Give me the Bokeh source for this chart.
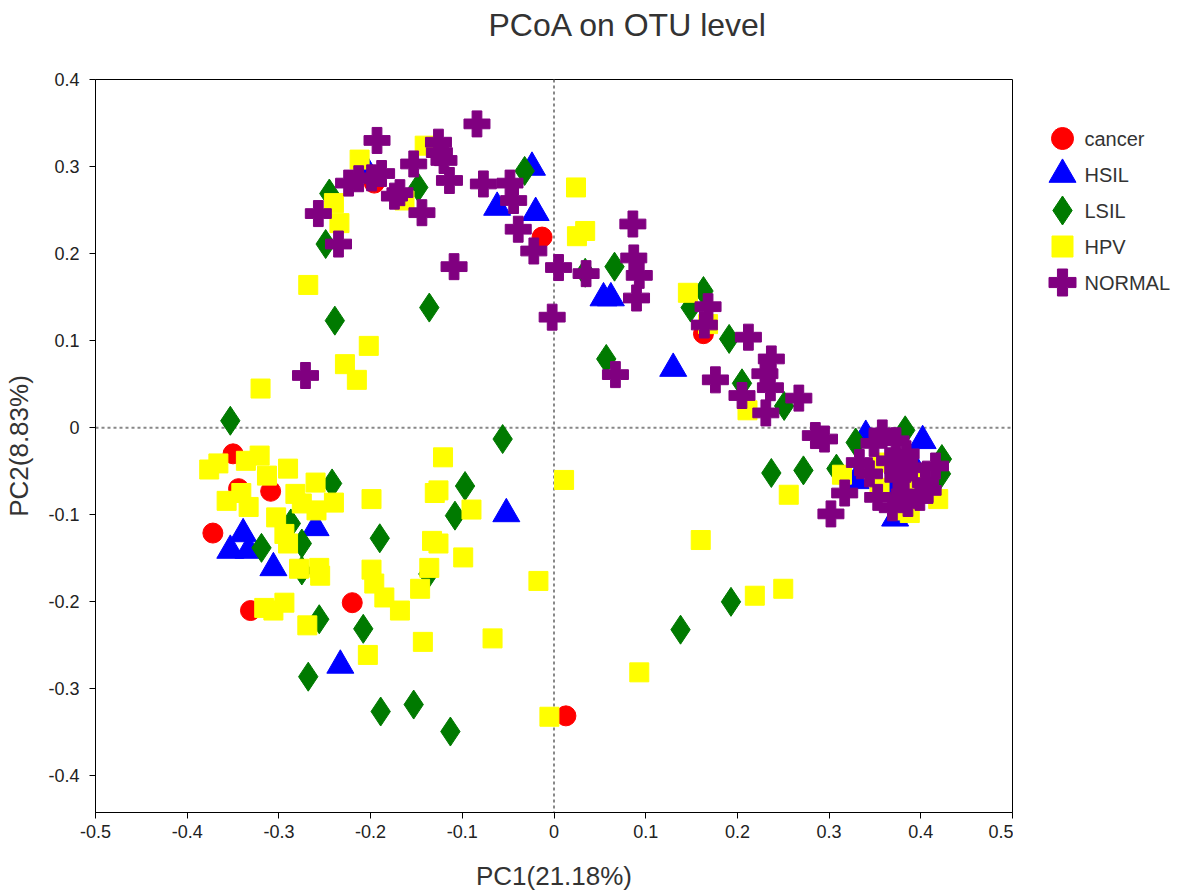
from bokeh.plotting import figure
from bokeh.layouts import row
from bokeh.models import Span, FixedTicker, Range1d, Title
from bokeh.core.properties import value
from bokeh.embed import file_html
from bokeh.resources import INLINE

# ---------------- data ----------------
title_text = "PCoA on OTU level"
x_label = "PC1(21.18%)"
y_label = "PC2(8.83%)"

x_ticks = [-0.5, -0.4, -0.3, -0.2, -0.1, 0, 0.1, 0.2, 0.3, 0.4, 0.5]
x_tick_labels = ["-0.5", "-0.4", "-0.3", "-0.2", "-0.1", "0", "0.1", "0.2", "0.3", "0.4", "0.5"]
y_ticks = [-0.4, -0.3, -0.2, -0.1, 0, 0.1, 0.2, 0.3, 0.4]
y_tick_labels = ["-0.4", "-0.3", "-0.2", "-0.1", "0", "0.1", "0.2", "0.3", "0.4"]

groups = ["cancer", "HSIL", "LSIL", "HPV", "NORMAL"]

cancer_x = [-0.013, 0.163, -0.350, -0.344, -0.309, -0.372, -0.331, -0.220, 0.013, -0.196]
cancer_y = [0.219, 0.108, -0.030, -0.070, -0.073, -0.121, -0.210, -0.201, -0.331, 0.281]

hsil_x = [-0.024, -0.062, -0.020, 0.054, 0.062, 0.130, -0.052, -0.339, -0.353, -0.333,
          -0.306, -0.260, -0.233, 0.340, 0.402, 0.329, 0.372, 0.369, -0.204, 0.390]
hsil_y = [0.299, 0.253, 0.247, 0.149, 0.149, 0.068, -0.099, -0.122, -0.141, -0.141,
          -0.161, -0.115, -0.273, -0.009, -0.015, -0.061, -0.104, -0.072, 0.295, -0.040]

lsil_x = [-0.032, -0.148, -0.245, -0.249, -0.239, -0.136, 0.034, 0.066, 0.057, 0.163,
          0.149, 0.191, 0.205, 0.251, 0.329, 0.383, 0.423, 0.422, 0.237, 0.272,
          0.308, -0.353, -0.242, -0.097, -0.108, -0.190, -0.319, -0.287, -0.275, -0.137,
          -0.056, 0.193, 0.138, -0.256, -0.208, -0.268, -0.189, -0.153, -0.113, -0.275]
lsil_y = [0.295, 0.276, 0.269, 0.211, 0.123, 0.138, 0.178, 0.185, 0.079, 0.157,
          0.138, 0.102, 0.051, 0.025, -0.017, -0.003, -0.036, -0.053, -0.052, -0.049,
          -0.047, 0.008, -0.064, -0.067, -0.101, -0.127, -0.138, -0.110, -0.133, -0.168,
          -0.013, -0.200, -0.232, -0.220, -0.231, -0.286, -0.326, -0.318, -0.349, -0.164]

hpv_x = [-0.212, -0.240, -0.234, -0.268, -0.141, -0.163, 0.024, 0.025, 0.034, 0.146,
         0.168, 0.211, -0.202, -0.228, -0.215, -0.320, -0.376, -0.366, -0.336, -0.321,
         -0.313, -0.290, -0.341, -0.357, -0.333, -0.282, -0.275, -0.260, -0.259, -0.240,
         -0.303, -0.294, -0.290, -0.278, -0.256, -0.255, -0.199, -0.121, -0.130, -0.126,
         -0.090, -0.133, -0.126, -0.099, -0.136, -0.199, -0.196, -0.185, -0.168, -0.146,
         -0.316, -0.306, -0.294, -0.269, -0.143, -0.203, -0.067, -0.005, -0.017, 0.011,
         0.160, 0.219, 0.250, 0.256, 0.093, 0.314, 0.358, 0.355, 0.377, 0.388,
         0.419, 0.395, 0.384]
hpv_y = [0.308, 0.258, 0.235, 0.164, 0.324, 0.261, 0.276, 0.220, 0.226, 0.155,
         0.119, 0.020, 0.094, 0.073, 0.055, 0.045, -0.048, -0.041, -0.038, -0.032,
         -0.055, -0.047, -0.075, -0.084, -0.091, -0.076, -0.087, -0.063, -0.095, -0.086,
         -0.103, -0.122, -0.133, -0.162, -0.161, -0.170, -0.082, -0.034, -0.075, -0.072,
         -0.094, -0.130, -0.133, -0.149, -0.161, -0.163, -0.179, -0.195, -0.210, -0.185,
         -0.207, -0.210, -0.201, -0.227, -0.246, -0.261, -0.242, -0.332, -0.176, -0.060,
         -0.129, -0.193, -0.185, -0.077, -0.281, -0.054, -0.040, -0.069, -0.095, -0.098,
         -0.082, -0.061, -0.092]

normal_x = [-0.193, -0.224, -0.213, -0.199, -0.188, -0.257, -0.235, -0.084, -0.153, -0.126,
            -0.125, -0.120, -0.114, -0.168, -0.174, -0.144, -0.077, -0.048, -0.044, -0.039,
            -0.022, 0.005, -0.109, 0.035, 0.086, 0.087, 0.093, 0.090, -0.002, -0.271,
            0.067, 0.168, 0.164, 0.212, 0.237, 0.230, 0.236, 0.176, 0.205, 0.267,
            0.231, 0.285, 0.295, 0.302, 0.317, 0.333, 0.353, 0.358, 0.349, 0.373,
            0.384, 0.366, 0.391, 0.416, 0.375, 0.405, 0.382, 0.399, 0.369, 0.386,
            0.408, 0.344]
normal_y = [0.330, 0.281, 0.286, 0.287, 0.292, 0.246, 0.211, 0.349, 0.303, 0.328,
            0.316, 0.307, 0.284, 0.270, 0.266, 0.247, 0.280, 0.281, 0.261, 0.228,
            0.203, 0.184, 0.185, 0.177, 0.234, 0.195, 0.175, 0.149, 0.127, 0.060,
            0.061, 0.139, 0.118, 0.104, 0.079, 0.062, 0.046, 0.055, 0.037, 0.034,
            0.017, -0.009, -0.013, -0.099, -0.075, -0.040, -0.080, -0.006, -0.018, -0.015,
            -0.030, -0.038, -0.046, -0.044, -0.057, -0.063, -0.076, -0.080, -0.092, -0.087,
            -0.072, -0.053]

series_x = [cancer_x, hsil_x, lsil_x, hpv_x, normal_x]
series_y = [cancer_y, hsil_y, lsil_y, hpv_y, normal_y]

# ---------------- styles ----------------
FONT = "Liberation Sans"
markers = ["circle", "triangle", "diamond", "square", "plus"]
sizes = [20, 27, 29, 19, 26]
legend_sizes = [22, 27, 29, 21, 27]
colors = ["#ff0000", "#0000ff", "#007a00", "#ffff00", "#800080"]

# ---------------- main figure ----------------
p = figure(width=1013, height=894, x_range=(-0.5, 0.5), y_range=(-0.442, 0.4),
           output_backend="svg", toolbar_location=None,
           min_border_left=95, min_border_right=1, min_border_top=79, min_border_bottom=82)

# spacer panel between the frame and the title (pushes the title up)
spacer = Title(text=" ", text_font=FONT, text_font_size="20px", standoff=13)
p.add_layout(spacer, "above")

p.title.text = title_text
p.title.text_font = FONT
p.title.text_font_size = "32px"
p.title.text_font_style = "normal"
p.title.text_color = "#333333"
p.title.align = "left"
p.title.offset = 393
p.title.standoff = 0

p.xgrid.visible = False
p.ygrid.visible = False
p.outline_line_color = "black"
p.outline_line_width = 1

for ax in (p.xaxis[0], p.yaxis[0]):
    ax.axis_line_color = "black"
    ax.major_tick_line_color = "black"
    ax.minor_tick_line_color = None
    ax.major_tick_out = 6
    ax.major_tick_in = 0
    ax.major_label_text_font = FONT
    ax.major_label_text_font_size = "18px"
    ax.major_label_text_color = "#222222"
    ax.axis_label_text_font = FONT
    ax.axis_label_text_font_size = "26px"
    ax.axis_label_text_font_style = "normal"
    ax.axis_label_text_color = "#333333"

p.xaxis.ticker = FixedTicker(ticks=x_ticks)
p.xaxis.major_label_overrides = dict(zip(x_ticks, x_tick_labels))
p.yaxis.ticker = FixedTicker(ticks=y_ticks)
p.yaxis.major_label_overrides = dict(zip(y_ticks, y_tick_labels))
p.xaxis.axis_label = x_label
p.yaxis.axis_label = y_label
p.xaxis.major_label_standoff = 6
p.yaxis.major_label_standoff = 10
p.xaxis.axis_label_standoff = 20
p.yaxis.axis_label_standoff = 11

for dim in ("height", "width"):
    s = Span(location=0, dimension=dim, line_color="#888888", line_dash="3 3",
             line_width=2, level="underlay")
    p.add_layout(s)

for xs, ys, m, sz, c in zip(series_x, series_y, markers, sizes, colors):
    p.scatter(xs, ys, marker=m, size=sz, color=c)

# ---------------- legend panel (page-pixel coordinates; frame aligned with main frame) ----------------
LG_W = 168
lg = figure(width=LG_W, height=894, x_range=Range1d(0, LG_W), y_range=Range1d(812, 79),
            output_backend="svg", toolbar_location=None,
            x_axis_location=None, y_axis_location=None,
            min_border_left=0, min_border_right=0, min_border_top=79, min_border_bottom=82)
lg.xgrid.visible = False
lg.ygrid.visible = False
lg.outline_line_color = None

key_x, text_x, row0, row_step = 49, 71, 138, 36
for i, (g, m, sz, c) in enumerate(zip(groups, markers, legend_sizes, colors)):
    ry = row0 + i * row_step
    lg.scatter(x=[key_x], y=[ry], marker=m, size=sz, color=c)
    lg.text(x=[text_x], y=[ry], text=[g], text_baseline="middle", text_align="left",
            text_font=value(FONT), text_font_size="20px", text_color="#333333")

layout = row(p, lg)
open("out.html", "w").write(file_html(layout, INLINE))
